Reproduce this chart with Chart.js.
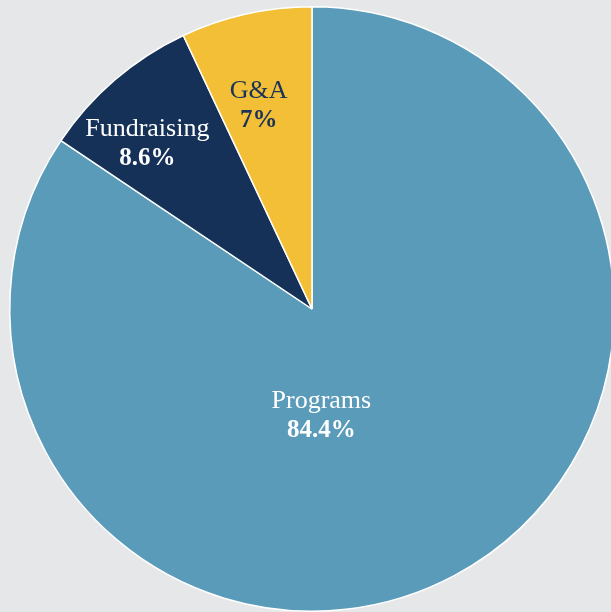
<!DOCTYPE html>
<html><head><meta charset="utf-8">
<script src="https://cdn.jsdelivr.net/npm/chart.js@4.4.1/dist/chart.umd.min.js"></script>
<style>html,body{margin:0;padding:0;background:#e6e7e9;overflow:hidden;}canvas{display:block;}</style>
</head><body>
<canvas id="c" width="620" height="620"></canvas>
<script>
const categories = ["Programs", "Fundraising", "G&A"];
const values = [84.4, 8.6, 7];
const valueLabels = ["84.4%", "8.6%", "7%"];
const colors = ["#5a9bba", "#153158", "#f3bf36"];
const textColors = ["#ffffff", "#ffffff", "#1b3358"];
// label placement: radius fraction and angle offset (deg) relative to slice mid-angle
const labelPlace = [{r:0.35, da:23}, {r:0.775, da:-4}, {r:0.70, da:-2}];

const labelPlugin = {
  id: 'sliceLabels',
  afterDatasetsDraw(chart) {
    const ctx = chart.ctx;
    const meta = chart.getDatasetMeta(0);
    meta.data.forEach((arc, i) => {
      const p = arc.getProps(['x','y','startAngle','endAngle','outerRadius'], true);
      const mid = (p.startAngle + p.endAngle) / 2 + labelPlace[i].da * Math.PI / 180;
      const rr = p.outerRadius * labelPlace[i].r;
      const x = p.x + Math.cos(mid) * rr;
      const y = p.y + Math.sin(mid) * rr;
      ctx.save();
      ctx.fillStyle = textColors[i];
      ctx.textAlign = 'center';
      ctx.textBaseline = 'alphabetic';
      ctx.font = '26px "Liberation Serif", serif';
      ctx.fillText(categories[i], x, y - 6);
      ctx.font = 'bold 25px "Liberation Serif", serif';
      ctx.fillText(valueLabels[i], x, y + 23);
      ctx.restore();
    });
  }
};

new Chart(document.getElementById('c'), {
  type: 'pie',
  data: {
    labels: categories,
    datasets: [{
      data: values,
      backgroundColor: colors,
      borderColor: '#ffffff',
      borderWidth: 1.5
    }]
  },
  options: {
    responsive: false,
    animation: false,
    layout: { padding: { left: 9, top: 6, right: 5, bottom: 8 } },
    plugins: { legend: { display: false }, tooltip: { enabled: false } }
  },
  plugins: [labelPlugin]
});
</script>
</body></html>
